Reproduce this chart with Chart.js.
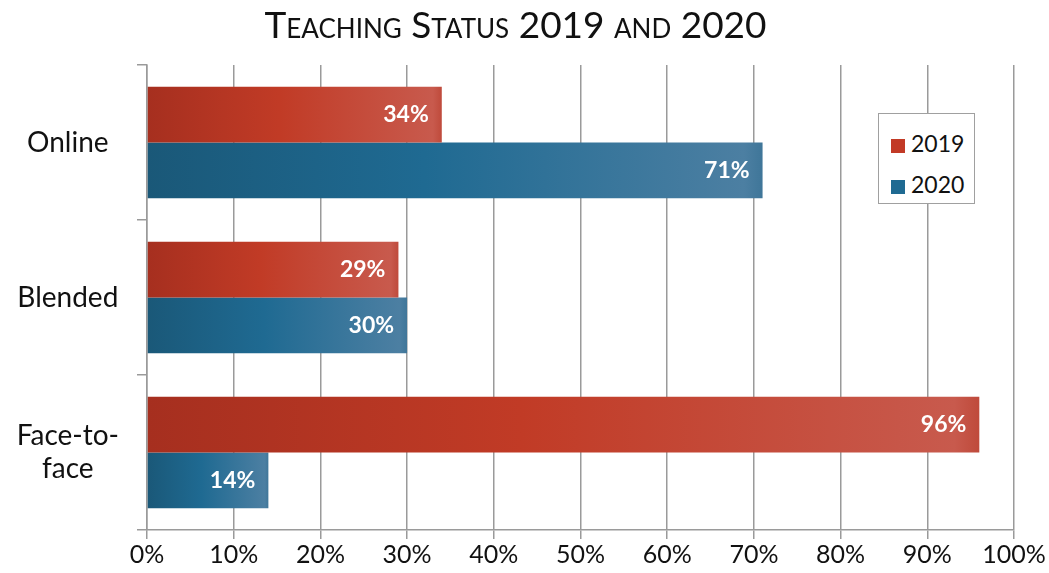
<!DOCTYPE html>
<html>
<head>
<meta charset="utf-8">
<script src="https://cdn.jsdelivr.net/npm/chart.js@4/dist/chart.umd.min.js"></script>
<style>
    body { margin: 0; background: #fff; }
    #wrap { position: relative; width: 1049px; height: 573px; }
    #title {
        position: absolute; left: 0; top: 1px; width: 1031px; text-align: center;
        font-family: Lato, "Open Sans", sans-serif; font-size: 37px; font-variant: small-caps;
        color: #111; line-height: 46px;
    }
    #legend {
        position: absolute; left: 878px; top: 113px; width: 97px; height: 91px;
        border: 1.5px solid #a0a0a0; background: #fff; box-sizing: border-box;
        font-family: Lato, "Open Sans", sans-serif; font-size: 23px; color: #111;
        padding: 9px 0 0 12px;
    }
    #legend div { height: 41px; line-height: 40px; }
    #legend span.box { display: inline-block; width: 14px; height: 14px; margin-right: 6px; vertical-align: -1px; }
</style>
</head>
<body>
<div id="wrap">
    <canvas id="teaching" width="1049" height="573"></canvas>
    <div id="title">Teaching Status 2019 and 2020</div>
    <div id="legend"></div>
</div>
<script>
const categories = [['Online'], ['Blended'], ['Face-to-', 'face']];
const seriesNames = ['2019', '2020'];
const values2019 = [34, 29, 96];
const values2020 = [71, 30, 14];
const tickLabels = ['0%', '10%', '20%', '30%', '40%', '50%', '60%', '70%', '80%', '90%', '100%'];

const palettes = {
    '2019': { stops: ['#a62f1f', '#c13b26', '#c85a4d'], edge: '#bf4a3b', box: '#c23a26' },
    '2020': { stops: ['#1a5878', '#1f6a92', '#4c7fa2'], edge: '#3f7699', box: '#1f6a92' }
};

function barGradient(ctx, name) {
    const chart = ctx.chart;
    const p = palettes[name];
    if (!chart.chartArea || ctx.parsed === undefined) return p.box;
    const x = chart.scales.x;
    const x0 = x.getPixelForValue(0);
    const x1 = x.getPixelForValue(ctx.parsed.x);
    const g = chart.ctx.createLinearGradient(x0, 0, x1, 0);
    g.addColorStop(0, p.stops[0]);
    g.addColorStop(0.45, p.stops[1]);
    g.addColorStop(0.97, p.stops[2]);
    g.addColorStop(1, p.edge);
    return g;
}

const barLabels = {
    id: 'barLabels',
    afterDatasetsDraw(chart) {
        const c = chart.ctx;
        c.save();
        c.font = 'bold 23px Lato, "Open Sans", sans-serif';
        c.fillStyle = '#fff';
        c.textAlign = 'right';
        c.textBaseline = 'middle';
        chart.data.datasets.forEach((ds, i) => {
            chart.getDatasetMeta(i).data.forEach((bar, j) => {
                c.fillText(ds.data[j] + '%', bar.x - 13, bar.y);
            });
        });
        c.restore();
    }
};

const chart = new Chart(document.getElementById('teaching'), {
    type: 'bar',
    data: {
        labels: categories,
        datasets: [
            {
                label: seriesNames[0],
                data: values2019,
                backgroundColor: (ctx) => barGradient(ctx, '2019'),
                categoryPercentage: 0.72,
                barPercentage: 1,
            },
            {
                label: seriesNames[1],
                data: values2020,
                backgroundColor: (ctx) => barGradient(ctx, '2020'),
                categoryPercentage: 0.72,
                barPercentage: 1,
            },
        ],
    },
    options: {
        indexAxis: 'y',
        responsive: false,
        animation: false,
        layout: {
            padding: { top: 65, right: 35, left: 6, bottom: 2 }
        },
        plugins: {
            legend: { display: false },
            title: { display: false },
            tooltip: { enabled: false },
        },
        scales: {
            x: {
                min: 0,
                max: 100,
                ticks: {
                    stepSize: 10,
                    callback: (v, i) => tickLabels[i],
                    font: { family: 'Lato, "Open Sans", sans-serif', size: 25 },
                    color: '#111',
                    padding: 1,
                },
                grid: { color: '#9a9a9a', lineWidth: 1.5, tickLength: 9 },
                border: { color: '#9a9a9a', width: 1.5 },
            },
            y: {
                ticks: {
                    font: { family: 'Lato, "Open Sans", sans-serif', size: 28 },
                    color: '#111',
                    crossAlign: 'center',
                    padding: 18,
                },
                grid: { color: '#9a9a9a', lineWidth: 1.5, tickLength: 10, drawOnChartArea: false, offset: true },
                border: { color: '#9a9a9a', width: 1.5 },
                afterFit: (scale) => { scale.width = 141; },
            },
        },
    },
    plugins: [barLabels]
});

document.getElementById('legend').innerHTML = chart.data.datasets.map((ds) =>
    '<div><span class="box" style="background:' + palettes[ds.label].box + '"></span>' + ds.label + '</div>'
).join('');
</script>
</body>
</html>
